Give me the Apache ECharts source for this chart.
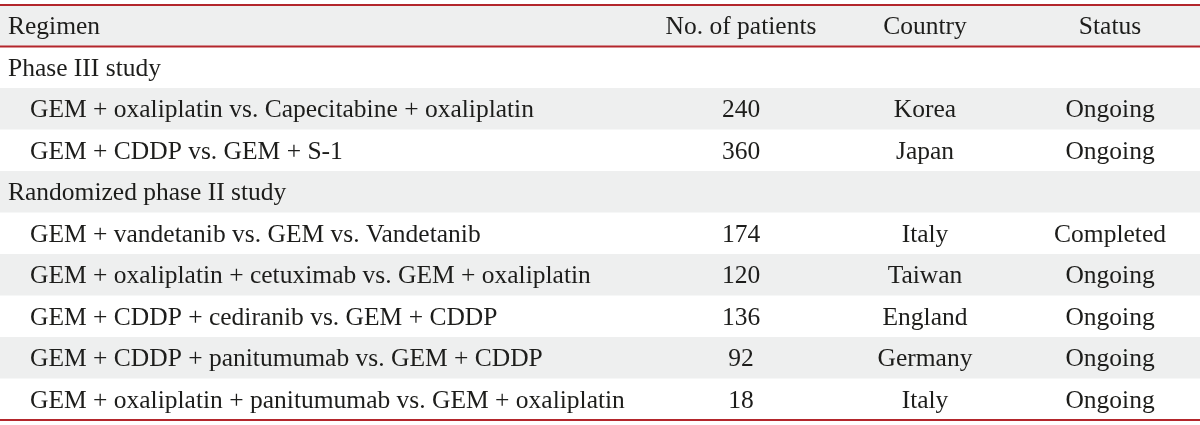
<!DOCTYPE html>
<html>
<head>
<meta charset="utf-8">
<script src="https://cdn.jsdelivr.net/npm/echarts@6/dist/echarts.min.js"></script>
<style>html,body{margin:0;padding:0;background:#fff}#c{width:1200px;height:425px}</style>
</head>
<body>
<div id="c"></div>
<script>
const headers = ['Regimen', 'No. of patients', 'Country', 'Status'];
const regimens = [
  'Phase III study',
  'GEM + oxaliplatin vs. Capecitabine + oxaliplatin',
  'GEM + CDDP vs. GEM + S-1',
  'Randomized phase II study',
  'GEM + vandetanib vs. GEM vs. Vandetanib',
  'GEM + oxaliplatin + cetuximab vs. GEM + oxaliplatin',
  'GEM + CDDP + cediranib vs. GEM + CDDP',
  'GEM + CDDP + panitumumab vs. GEM + CDDP',
  'GEM + oxaliplatin + panitumumab vs. GEM + oxaliplatin'
];
const patients = [null, 240, 360, null, 174, 120, 136, 92, 18];
const countries = ['', 'Korea', 'Japan', '', 'Italy', 'Taiwan', 'England', 'Germany', 'Italy'];
const statuses = ['', 'Ongoing', 'Ongoing', '', 'Completed', 'Ongoing', 'Ongoing', 'Ongoing', 'Ongoing'];
const isSection = [true, false, false, true, false, false, false, false, false];

const rowLabels = ['header'].concat(regimens);
const FONT = '"Liberation Serif", "DejaVu Serif", serif';
const FS = 25.5;
const TXT = '#1d1d1b';
const RED = '#b3262c';
const GREY = '#eeefef';
const DY = 2;

const colX = { regimen: 8, indent: 30, patients: 741, country: 925, status: 1110 };

const chart = echarts.init(document.getElementById('c'), null, { renderer: 'canvas' });

function renderItem(params, api) {
  const idx = api.value(1);
  const c = api.coord([0, idx]);
  const size = api.size([0, 1]);
  const h = size[1];
  const top = c[1] - h / 2;
  const cy = c[1] + DY;
  const left = api.coord([0, idx])[0];
  const right = api.coord([1200, idx])[0];
  const children = [];
  if (idx % 2 === 0) {
    children.push({ type: 'rect', shape: { x: left, y: top, width: right - left, height: h }, style: { fill: GREY } });
  }
  function txt(x, s, align) {
    children.push({ type: 'text', x: x, y: cy, style: { text: s, fill: TXT, font: FS + 'px ' + FONT, align: align, verticalAlign: 'middle' } });
  }
  if (idx === 0) {
    txt(api.coord([colX.regimen, 0])[0], headers[0], 'left');
    txt(api.coord([colX.patients, 0])[0], headers[1], 'center');
    txt(api.coord([colX.country, 0])[0], headers[2], 'center');
    txt(api.coord([colX.status, 0])[0], headers[3], 'center');
    children.push({ type: 'line', shape: { x1: left, y1: top, x2: right, y2: top }, style: { stroke: RED, lineWidth: 2 } });
    children.push({ type: 'line', shape: { x1: left, y1: top + h, x2: right, y2: top + h }, style: { stroke: RED, lineWidth: 2 } });
  } else {
    const r = idx - 1;
    const x0 = isSection[r] ? colX.regimen : colX.indent;
    txt(api.coord([x0, idx])[0], regimens[r], 'left');
    if (patients[r] != null) txt(api.coord([colX.patients, idx])[0], String(patients[r]), 'center');
    if (countries[r]) txt(api.coord([colX.country, idx])[0], countries[r], 'center');
    if (statuses[r]) txt(api.coord([colX.status, idx])[0], statuses[r], 'center');
    if (idx === rowLabels.length - 1) {
      children.push({ type: 'line', shape: { x1: left, y1: top + h, x2: right, y2: top + h }, style: { stroke: RED, lineWidth: 2 } });
    }
  }
  return { type: 'group', children: children };
}

chart.setOption({
  animation: false,
  grid: { left: 0, right: 0, top: 5, bottom: 5 },
  xAxis: { type: 'value', min: 0, max: 1200, show: false },
  yAxis: { type: 'category', inverse: true, data: rowLabels, show: false },
  series: [{
    type: 'custom',
    renderItem: renderItem,
    encode: { x: 0, y: 1 },
    data: rowLabels.map((_, i) => [0, i]),
    clip: false
  }]
});
</script>
</body>
</html>
